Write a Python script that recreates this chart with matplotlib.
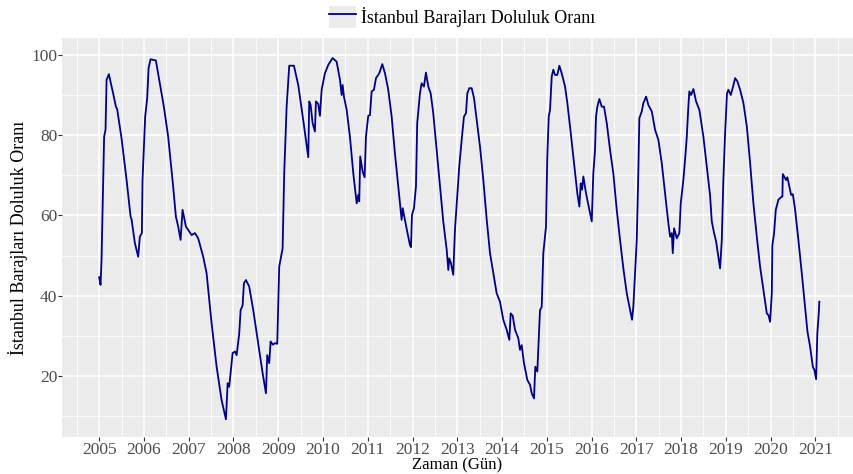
import matplotlib.pyplot as plt
from matplotlib.lines import Line2D
from matplotlib.patches import Rectangle
from matplotlib.legend_handler import HandlerTuple
import numpy as np

plt.rcParams['font.family'] = ['Liberation Serif', 'DejaVu Serif']

# decimal year
years = [
    2005.000, 2005.031, 2005.053, 2005.089, 2005.111, 2005.142, 2005.166, 2005.217, 2005.312, 2005.374,
    2005.402, 2005.500, 2005.613, 2005.702, 2005.724, 2005.798, 2005.872, 2005.909, 2005.954, 2005.969,
    2006.028, 2006.073, 2006.104, 2006.148, 2006.267, 2006.356, 2006.445, 2006.542, 2006.653, 2006.714,
    2006.766, 2006.819, 2006.863, 2006.938, 2006.989,
    2007.065, 2007.139, 2007.212, 2007.324, 2007.400, 2007.512, 2007.624, 2007.735, 2007.832, 2007.870,
    2007.905, 2007.943, 2007.981,
    2008.033, 2008.071, 2008.129, 2008.160, 2008.205, 2008.234, 2008.279, 2008.352, 2008.442, 2008.553,
    2008.652, 2008.726, 2008.754, 2008.799, 2008.830, 2008.881, 2008.933, 2008.978,
    2009.022, 2009.098, 2009.134, 2009.188, 2009.246, 2009.351, 2009.447, 2009.558, 2009.671, 2009.693,
    2009.724, 2009.768, 2009.820, 2009.842, 2009.894, 2009.932, 2009.970,
    2010.043, 2010.118, 2010.215, 2010.305, 2010.379, 2010.417, 2010.439, 2010.468, 2010.529, 2010.602,
    2010.677, 2010.753, 2010.788, 2010.810, 2010.832, 2010.886, 2010.930, 2010.960,
    2011.011, 2011.049, 2011.087, 2011.138, 2011.184, 2011.257, 2011.325, 2011.385, 2011.458, 2011.534,
    2011.607, 2011.682, 2011.757, 2011.780, 2011.853, 2011.943, 2011.966, 2011.988,
    2012.032, 2012.077, 2012.105, 2012.166, 2012.204, 2012.256, 2012.300, 2012.353, 2012.406, 2012.463,
    2012.540, 2012.614, 2012.687, 2012.764, 2012.800, 2012.822, 2012.859, 2012.910, 2012.948, 2012.999,
    2013.044, 2013.098, 2013.149, 2013.195, 2013.224, 2013.268, 2013.322, 2013.374, 2013.434, 2013.508,
    2013.582, 2013.658, 2013.731, 2013.805, 2013.880, 2013.954,
    2014.028, 2014.104, 2014.162, 2014.193, 2014.238, 2014.290, 2014.363, 2014.401, 2014.439, 2014.490,
    2014.565, 2014.625, 2014.663, 2014.714, 2014.743, 2014.788, 2014.848, 2014.886, 2014.922, 2014.982,
    2015.011, 2015.043, 2015.072, 2015.110, 2015.145, 2015.184, 2015.235, 2015.280, 2015.333, 2015.407,
    2015.459, 2015.535, 2015.608, 2015.682, 2015.727, 2015.758, 2015.787, 2015.816, 2015.876, 2015.905,
    2016.004, 2016.039, 2016.077, 2016.099, 2016.129, 2016.174, 2016.227, 2016.278, 2016.339, 2016.413,
    2016.486, 2016.562, 2016.636, 2016.710, 2016.786, 2016.860, 2016.904, 2016.933,
    2017.009, 2017.044, 2017.067, 2017.121, 2017.157, 2017.218, 2017.269, 2017.345, 2017.419, 2017.493,
    2017.568, 2017.643, 2017.716, 2017.754, 2017.792, 2017.814, 2017.843, 2017.903, 2017.961, 2017.992,
    2018.050, 2018.088, 2018.127, 2018.162, 2018.184, 2018.222, 2018.275, 2018.334, 2018.408, 2018.498,
    2018.574, 2018.647, 2018.685, 2018.737, 2018.782, 2018.833, 2018.871, 2018.909, 2018.944, 2018.983,
    2019.025, 2019.056, 2019.110, 2019.161, 2019.206, 2019.258, 2019.318, 2019.392, 2019.469, 2019.542,
    2019.615, 2019.691, 2019.765, 2019.839, 2019.914, 2019.950, 2019.988,
    2020.026, 2020.039, 2020.077, 2020.115, 2020.174, 2020.227, 2020.263, 2020.272, 2020.301, 2020.346,
    2020.374, 2020.419, 2020.458, 2020.496, 2020.547, 2020.620, 2020.696, 2020.769, 2020.822, 2020.882,
    2020.942, 2020.978, 2021.016, 2021.043, 2021.075, 2021.088,
]

# fill ratio (%)
doluluk = [
    44.6, 42.7, 48.9, 68.8, 79.6, 81.3, 93.8, 95.2, 90.4, 87.1,
    86.5, 79.2, 68.8, 59.7, 59.0, 53.1, 49.7, 54.7, 55.6, 68.8,
    84.6, 89.2, 96.7, 98.9, 98.6, 92.9, 87.1, 79.6, 67.2, 59.7,
    57.2, 53.9, 61.4, 57.2, 56.4,
    55.1, 55.6, 54.3, 49.7, 45.6, 33.1, 22.3, 14.0, 9.2, 18.2,
    17.3, 21.5, 25.7,
    26.1, 25.2, 30.6, 36.4, 37.6, 43.1, 43.9, 42.3, 36.4, 28.1,
    20.7, 15.7, 25.2, 23.2, 28.6, 27.8, 28.2, 28.0,
    47.2, 51.8, 70.5, 87.1, 97.3, 97.3, 92.5, 83.8, 74.5, 88.4,
    87.5, 83.0, 80.9, 88.4, 87.8, 84.8, 91.3,
    95.4, 97.5, 99.2, 98.3, 93.8, 90.0, 92.5, 89.6, 86.3, 79.6,
    70.5, 63.0, 65.1, 63.5, 74.7, 70.9, 69.5, 79.6,
    84.8, 85.0, 90.9, 91.3, 94.2, 95.4, 97.7, 95.4, 91.3, 84.6,
    75.5, 67.2, 58.9, 61.8, 57.6, 52.6, 52.1, 60.1,
    61.8, 67.2, 83.0, 90.4, 92.9, 92.1, 95.6, 92.1, 90.4, 85.5,
    76.3, 67.2, 58.5, 51.4, 46.4, 49.3, 48.1, 45.2, 56.4, 64.7,
    72.2, 78.8, 84.6, 85.5, 90.4, 91.7, 91.7, 89.2, 83.8, 77.1,
    68.8, 58.9, 50.6, 45.6, 40.6, 38.5,
    34.0, 31.5, 29.0, 35.6, 35.0, 31.5, 29.4, 26.5, 27.7, 23.2,
    19.0, 17.8, 15.7, 14.4, 22.3, 21.1, 36.4, 37.2, 50.6, 57.2,
    74.7, 84.6, 86.3, 94.6, 96.3, 95.0, 95.0, 97.3, 95.4, 92.1,
    88.0, 80.5, 73.0, 65.5, 62.2, 68.0, 66.4, 69.7, 65.5, 63.9,
    58.5, 70.5, 76.3, 84.6, 87.1, 89.0, 87.1, 87.1, 83.0, 76.3,
    70.5, 61.4, 53.9, 46.8, 40.6, 36.4, 34.0, 37.3,
    53.9, 70.5, 84.2, 85.9, 88.0, 89.6, 87.5, 85.9, 81.3, 78.8,
    73.0, 65.5, 58.0, 54.7, 55.6, 50.6, 56.8, 54.3, 55.6, 63.0,
    68.8, 73.8, 79.6, 87.1, 90.9, 90.0, 91.5, 88.4, 86.3, 79.6,
    72.2, 65.0, 58.5, 55.6, 53.5, 49.7, 46.8, 53.9, 68.8, 80.5,
    90.4, 91.3, 90.0, 92.1, 94.2, 93.4, 91.3, 88.0, 82.1, 73.0,
    63.0, 54.7, 47.2, 41.4, 35.6, 35.2, 33.5,
    40.6, 52.6, 55.6, 61.4, 63.9, 64.5, 64.7, 70.3, 69.7, 68.8,
    69.5, 67.2, 65.1, 65.3, 61.4, 53.9, 45.6, 37.3, 31.1, 27.3,
    22.3, 21.5, 19.2, 30.6, 35.6, 38.5,
]

year_ticks = list(range(2005, 2022))
y_ticks = [20, 40, 60, 80, 100]
seri_adi = 'İstanbul Barajları Doluluk Oranı'

W, H = 854, 474
fig = plt.figure(figsize=(W / 100, H / 100), dpi=100)
ax = fig.add_axes([62 / W, 1 - 437 / H, (853 - 62) / W, (437 - 38) / H])
ax.set_facecolor('#EBEBEB')

line_color = '#00008B'
ax.plot(years, doluluk, color=line_color, lw=1.3, solid_joinstyle='round')

ax.set_xlim(2004.17, 2021.84)
ax.set_ylim(4.8, 104.2)
ax.set_xticks(year_ticks)
ax.set_xticks(np.arange(2004.5, 2022, 1), minor=True)
ax.set_yticks(y_ticks)
ax.set_yticks([10, 30, 50, 70, 90], minor=True)

ax.grid(which='major', color='white', lw=1.1)
ax.grid(which='minor', color='white', lw=0.55)
ax.set_axisbelow(True)
for s in ax.spines.values():
    s.set_visible(False)

ax.tick_params(which='major', length=3, width=0.8, color='#333333',
               labelcolor='#4D4D4D', labelsize=12.5, pad=0.5)
ax.tick_params(which='minor', length=0)

ax.set_xlabel('Zaman (Gün)', fontsize=12, labelpad=0)
ax.set_ylabel(seri_adi, fontsize=13, labelpad=2.5)

key_bg = Rectangle((0, 0), 1, 1, facecolor='#EBEBEB', edgecolor='none')
key_line = Line2D([], [], color=line_color, lw=1.3)
fig.legend([(key_bg, key_line)], [seri_adi], loc='center',
           bbox_to_anchor=(462 / W, 1 - 17 / H), frameon=False,
           handler_map={tuple: HandlerTuple(ndivide=1)},
           handlelength=1.5, handleheight=1.5, handletextpad=0.3, fontsize=13)

fig.savefig('out.png', dpi=100)
